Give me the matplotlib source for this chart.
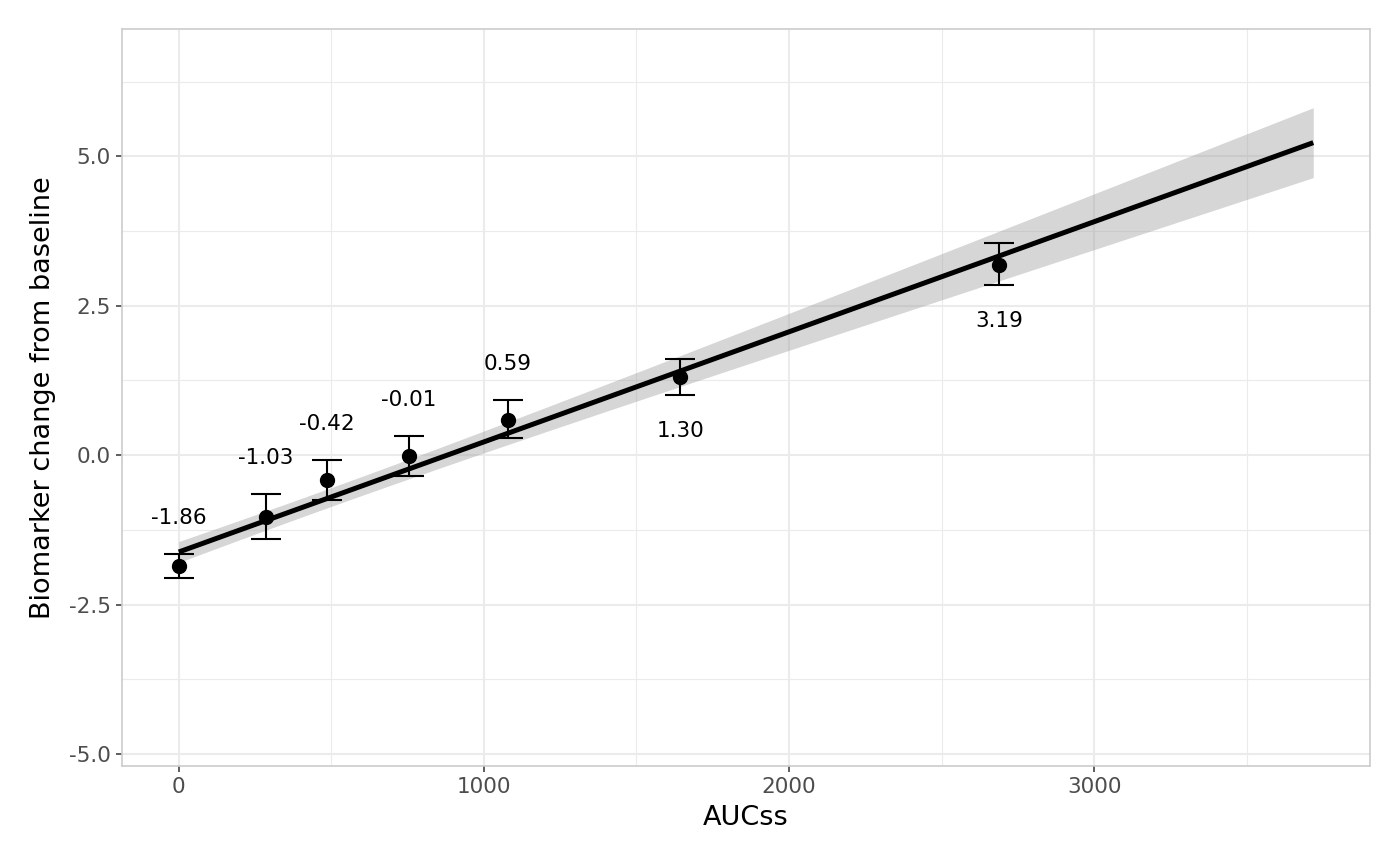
import numpy as np
import matplotlib.pyplot as plt

plt.rcParams['font.family'] = ['DejaVu Sans']
plt.rcParams['axes.unicode_minus'] = False

# exposure bins: mean AUCss and mean biomarker change (+/- error)
auc_mean = [0, 285, 485, 754, 1079, 1643, 2689]
change_mean = [-1.86, -1.03, -0.42, -0.01, 0.59, 1.30, 3.19]
change_lower = [-2.06, -1.40, -0.75, -0.35, 0.28, 1.00, 2.84]
change_upper = [-1.65, -0.65, -0.08, 0.32, 0.92, 1.61, 3.55]
label_side = ['above', 'above', 'above', 'above', 'above', 'below', 'below']

# linear fit
fit_intercept = -1.62
fit_slope = 0.001842
fit_xmax = 3718
ci_min_halfwidth = 0.157
ci_center_x = 455
ci_curvature = 2.98e-8

x_ticks = [0, 1000, 2000, 3000]
y_ticks = [-5.0, -2.5, 0.0, 2.5, 5.0]


fig = plt.figure(figsize=(14, 8.65), dpi=100)
ax = fig.add_axes([122 / 1400, 1 - 766 / 865, (1370 - 122) / 1400, (766 - 29) / 865])

# regression line with confidence band
xs = np.linspace(0, fit_xmax, 200)
ys = fit_intercept + fit_slope * xs
hw = np.sqrt(ci_min_halfwidth ** 2 + ci_curvature * (xs - ci_center_x) ** 2)
ax.fill_between(xs, ys - hw, ys + hw, color='#999999', alpha=0.4, linewidth=0, zorder=2)
ax.plot(xs, ys, color='black', linewidth=3.6, zorder=3, solid_capstyle='butt')

# error bars and points
yerr = [np.array(change_mean) - np.array(change_lower),
        np.array(change_upper) - np.array(change_mean)]
ax.errorbar(auc_mean, change_mean, yerr=yerr, fmt='none', ecolor='black',
            elinewidth=1.5, capsize=10.5, capthick=1.5, zorder=4)
ax.plot(auc_mean, change_mean, 'o', color='black', markersize=10, zorder=5)

for x, y, lo, hi, side in zip(auc_mean, change_mean, change_lower, change_upper, label_side):
    if side == 'above':
        ty = hi + 0.6
    else:
        ty = lo - 0.6
    ax.text(x, ty, f"{y:.2f}", ha='center', va='center', fontsize=15.5, color='black', zorder=6)

ax.set_xlim(-186, 3904)
ax.set_ylim(-5.2, 7.13)
ax.set_xticks(x_ticks)
ax.set_xticklabels([str(t) for t in x_ticks])
ax.set_yticks(y_ticks)
ax.set_yticklabels([f"{t:.1f}" for t in y_ticks])
ax.set_xticks([500, 1500, 2500, 3500], minor=True)
ax.set_yticks([-3.75, -1.25, 1.25, 3.75, 6.25], minor=True)

ax.grid(True, which='major', color='#ebebeb', linewidth=1.5, zorder=0)
ax.grid(True, which='minor', color='#ebebeb', linewidth=0.8, zorder=0)
ax.set_axisbelow(True)

ax.tick_params(which='major', length=4.5, width=1.1, color='#333333',
               labelsize=15.5, labelcolor='#4d4d4d', pad=3.5)
ax.tick_params(which='minor', length=0)
for s in ax.spines.values():
    s.set_color('#cccccc')
    s.set_linewidth(1.2)

ax.set_xlabel("AUCss", fontsize=19.5, labelpad=6)
ax.set_ylabel("Biomarker change from baseline", fontsize=19.5, labelpad=9)

plt.savefig("out.png", dpi=100)
